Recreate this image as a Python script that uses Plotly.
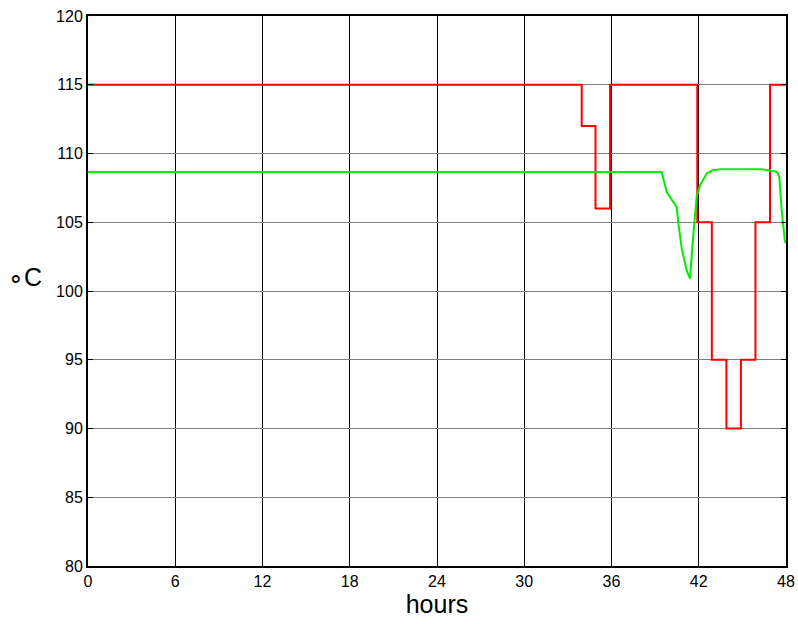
import plotly.graph_objects as go

# Red series (setpoint, step changes)
red_hours = [0, 33.95, 34.9, 35.9, 41.9, 42.9, 43.9, 44.9, 45.9, 46.9, 48]
red_vals = [115, 112, 106, 115, 105, 95, 90, 95, 105, 115, 115]

# Green series (measured temperature)
green_hours = [0, 39.45, 39.8, 40.37, 40.48, 40.6, 40.83, 41.17, 41.4, 41.58, 41.74,
               41.86, 42.09, 42.55, 43.0, 43.58, 46.33, 46.67, 47.36, 47.54, 47.7, 47.93, 48]
green_vals = [108.65, 108.65, 107.2, 106.25, 106.1, 104.9, 103.1, 101.5, 100.9, 103.5, 105.2,
              106.9, 107.7, 108.55, 108.8, 108.85, 108.85, 108.8, 108.68, 108.3, 105.9, 103.6, 103.5]

x_ticks = [0, 6, 12, 18, 24, 30, 36, 42, 48]
y_ticks = [80, 85, 90, 95, 100, 105, 110, 115, 120]

fig = go.Figure()
fig.add_trace(go.Scatter(x=red_hours, y=red_vals, mode="lines", line=dict(color="#ff0000", width=2, shape="hv")))
fig.add_trace(go.Scatter(x=green_hours, y=green_vals, mode="lines", line=dict(color="#00ee00", width=2)))

font = "Liberation Sans, Arial, sans-serif"
fig.update_layout(
    width=798, height=624,
    margin=dict(l=88, r=12, t=16, b=58, autoexpand=False),
    paper_bgcolor="white", plot_bgcolor="white",
    showlegend=False,
    font=dict(family=font, size=16, color="black"),
    xaxis=dict(range=[0, 48], tickvals=x_ticks, ticktext=[str(v) for v in x_ticks],
               showgrid=True, gridcolor="black", gridwidth=1, automargin=False,
               ticklabeloverflow="allow",
               showline=True, linecolor="black", linewidth=2, mirror="allticks",
               ticks="inside", ticklen=5, tickcolor="black", zeroline=False,
               title=dict(text="hours", font=dict(size=25), standoff=0)),
    yaxis=dict(range=[80, 120], tickvals=y_ticks, automargin=False,
               ticklabeloverflow="allow",
               showgrid=True, gridcolor="#808080", gridwidth=1,
               showline=True, linecolor="black", linewidth=2, mirror="allticks",
               ticks="inside", ticklen=5, tickcolor="black", zeroline=False),
    annotations=[dict(text="∘C", xref="paper", yref="paper", x=-0.09, y=0.525,
                      showarrow=False, font=dict(size=25), xanchor="center", yanchor="middle")],
)

fig.write_html("out.html", config={"displayModeBar": False},
               post_script="document.body.style.margin='0';document.body.style.overflow='hidden';")
